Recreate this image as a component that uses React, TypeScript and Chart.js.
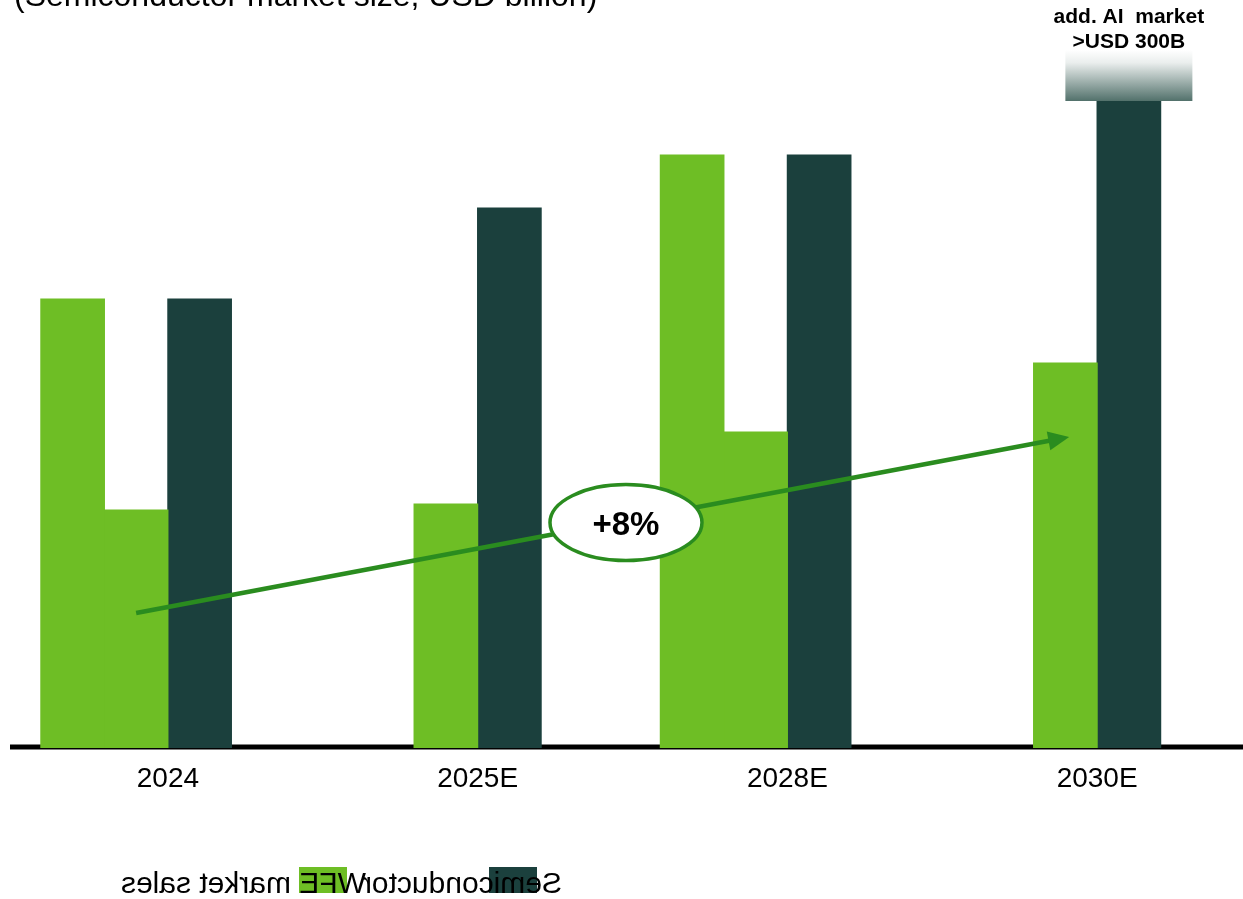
import React, { useEffect, useRef } from "react";
import { Chart, registerables } from "chart.js";

Chart.register(...registerables);

// ---- data (arbitrary units; baseline = 0) ----
const categories = ["2024", "2025E", "2028E", "2030E"];
const semiconductorSales = [449, 540, 593, 647];
const wfeSales = [238, 244, 316, 385];
const wfeEcho = [449, null, 593, null];
const spacer = [null, null, null, null];
const aiAddOn = [0, 0, 0, 51];
const cagrStartValue = 135;
const cagrEndValue = 311;
const cagrLabel = "+8%";
const aiLabelLines = ["add. AI  market", ">USD 300B"];
const titleText = "(Semiconductor market size, USD billion)";
const legendLabels = ["Semiconductor", "WFE market sales"];

const GREEN = "#6ebe25";
const DARK = "#1b403d";
const ARROW = "#2a8c1f";
const FONT = "'Liberation Sans', Arial, Helvetica, sans-serif";

const decorPlugin = {
  id: "decor",
  beforeDatasetsDraw(chart: any) {
    const { ctx } = chart;
    const y0 = chart.scales.y.getPixelForValue(0);
    ctx.save();
    ctx.strokeStyle = "#000";
    ctx.lineWidth = 5;
    ctx.beginPath();
    ctx.moveTo(10, y0 - 1);
    ctx.lineTo(chart.width, y0 - 1);
    ctx.stroke();
    ctx.restore();
  },
  afterDatasetsDraw(chart: any) {
    const { ctx } = chart;
    const ys = chart.scales.y;
    const wfeMeta = chart.getDatasetMeta(1);
    const semiMeta = chart.getDatasetMeta(2);

    // AI add-on gradient box above the last semiconductor bar
    const last = semiconductorSales.length - 1;
    const bar = semiMeta.data[last];
    const bw = bar.width;
    const boxTop = ys.getPixelForValue(semiconductorSales[last] + aiAddOn[last]);
    const boxBottom = ys.getPixelForValue(semiconductorSales[last]);
    const g = ctx.createLinearGradient(0, boxTop, 0, boxBottom);
    g.addColorStop(0, "#ffffff");
    g.addColorStop(0.25, "#eaeeed");
    g.addColorStop(1, "#52716b");
    ctx.save();
    ctx.fillStyle = g;
    ctx.fillRect(bar.x - bw, boxTop, bw * 2, boxBottom - boxTop);
    ctx.fillStyle = "#000";
    ctx.font = `bold 21px ${FONT}`;
    ctx.textAlign = "center";
    ctx.textBaseline = "alphabetic";
    ctx.fillText(aiLabelLines[0], bar.x, boxTop - 27);
    ctx.fillText(aiLabelLines[1], bar.x, boxTop - 2);
    ctx.restore();

    // CAGR arrow
    const sx = wfeMeta.data[0].x;
    const sy = ys.getPixelForValue(cagrStartValue);
    const ex = wfeMeta.data[last].x + wfeMeta.data[last].width * 0.06;
    const ey = ys.getPixelForValue(cagrEndValue);
    const ang = Math.atan2(ey - sy, ex - sx);
    const headLen = 21;
    const headHalf = 9.5;
    const bx = ex - headLen * Math.cos(ang);
    const by = ey - headLen * Math.sin(ang);
    ctx.save();
    ctx.strokeStyle = ARROW;
    ctx.fillStyle = ARROW;
    ctx.lineWidth = 4.5;
    ctx.beginPath();
    ctx.moveTo(sx, sy);
    ctx.lineTo(bx + 2 * Math.cos(ang), by + 2 * Math.sin(ang));
    ctx.stroke();
    ctx.beginPath();
    ctx.moveTo(ex, ey);
    ctx.lineTo(bx + headHalf * Math.sin(ang), by - headHalf * Math.cos(ang));
    ctx.lineTo(bx - headHalf * Math.sin(ang), by + headHalf * Math.cos(ang));
    ctx.closePath();
    ctx.fill();

    // CAGR ellipse
    const t = 0.525;
    const cx = sx + (ex - sx) * t;
    const cy = sy + (ey - sy) * t + 2;
    ctx.beginPath();
    ctx.ellipse(cx, cy, 76, 38, 0, 0, Math.PI * 2);
    ctx.fillStyle = "#fff";
    ctx.fill();
    ctx.lineWidth = 3.5;
    ctx.stroke();
    ctx.fillStyle = "#000";
    ctx.font = `bold 33px ${FONT}`;
    ctx.textAlign = "center";
    ctx.textBaseline = "middle";
    ctx.fillText(cagrLabel, cx, cy + 3);
    ctx.restore();
  },
  afterDraw(chart: any) {
    const { ctx } = chart;
    ctx.save();
    // cut-off title
    ctx.fillStyle = "#000";
    ctx.font = `32px ${FONT}`;
    ctx.textAlign = "left";
    ctx.textBaseline = "alphabetic";
    ctx.fillText(titleText, 14, 6);

    // mirrored legend
    ctx.translate(687, 0);
    ctx.scale(-1, 1);
    const legendBaseline = 893;
    const items = [
      { text: legendLabels[0], color: DARK, x: 125, boxX: 150 },
      { text: legendLabels[1], color: GREEN, x: 321, boxX: 340 },
    ];
    for (const it of items) {
      ctx.fillStyle = it.color;
      ctx.fillRect(it.boxX, legendBaseline - 26, 48, 26);
    }
    ctx.fillStyle = "#000";
    ctx.font = `30px ${FONT}`;
    for (const it of items) {
      ctx.fillText(it.text, it.x, legendBaseline);
    }
    ctx.restore();
  },
};

export default function App() {
  const canvasRef = useRef<HTMLCanvasElement | null>(null);

  useEffect(() => {
    if (!canvasRef.current) return;
    const chart = new Chart(canvasRef.current, {
      type: "bar",
      data: {
        labels: categories,
        datasets: [
          { label: "WFE (echo)", data: wfeEcho, backgroundColor: GREEN },
          { label: legendLabels[1], data: wfeSales, backgroundColor: GREEN },
          { label: legendLabels[0], data: semiconductorSales, backgroundColor: DARK },
          { label: "", data: spacer, backgroundColor: "transparent" },
        ],
      },
      options: {
        responsive: false,
        animation: false,
        layout: { padding: { left: 13, right: 0, top: 48, bottom: 0 } },
        datasets: {
          bar: { categoryPercentage: 0.82, barPercentage: 1, borderWidth: 0, inflateAmount: 0.6 },
        },
        plugins: {
          legend: { display: false },
          title: { display: false },
          tooltip: { enabled: false },
        },
        scales: {
          x: {
            grid: { display: false, drawTicks: false },
            border: { display: false },
            ticks: {
              color: "#000",
              padding: 14,
              font: { family: FONT, size: 28 },
            },
            afterFit: (scale: any) => {
              scale.height = 151;
            },
          },
          y: {
            display: false,
            min: 0,
            max: 700,
          },
        },
      },
      plugins: [decorPlugin],
    });
    return () => chart.destroy();
  }, []);

  return (
    <div style={{ position: "absolute", left: 0, top: 0, width: 1243, height: 899, overflow: "hidden" }}>
      <canvas ref={canvasRef} width={1252} height={899} style={{ display: "block" }} />
    </div>
  );
}
